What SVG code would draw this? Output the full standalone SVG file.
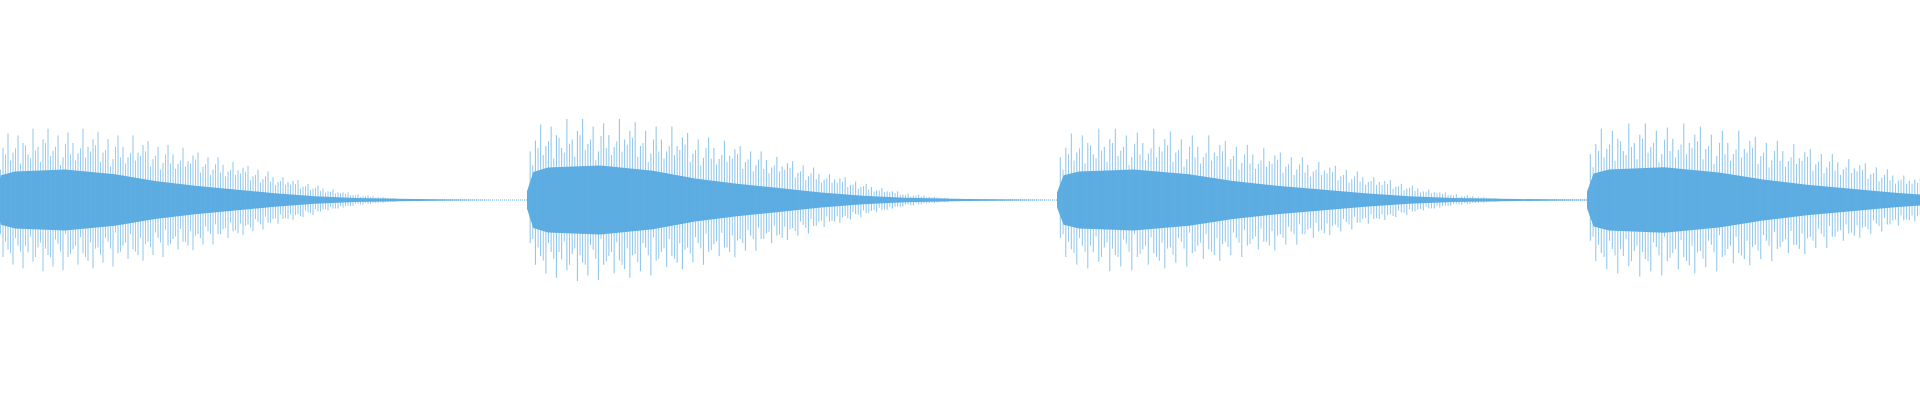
<svg xmlns="http://www.w3.org/2000/svg" width="1920" height="400" viewBox="0 0 1920 400">
<style>
.core{fill:#5dade2;stroke:none}
.sp{stroke:#5dade2;stroke-width:0.7;fill:none}
.base{stroke:#5dade2;stroke-width:1;stroke-dasharray:1 1}
</style>
<defs>
<path id="spk" class="sp" d="M3,-45V40M8,-55V60M13,-70V52M18,-50V68M23,-68V48M28,-60V72M33,-48V55M38,-75V65M43,-56V50M48,-64V75M53,-75V58M58,-52V70M63,-68V46M68,-45V74M73,-71V60M78,-60V52M83,-49V68M88,-75V56M93,-56V64M98,-64V72M103,-72V50M108,-50V66M113,-64V44M118,-43V70M123,-68V56M128,-56V48M133,-45V62M138,-68V52M143,-50V58M148,-58V64M153,-62V44M158,-43V58M163,-56V40M168,-39V60M173,-58V48M178,-48V41M183,-38V52M188,-55V44M193,-41V48M198,-47V53M203,-50V36M208,-35V47M213,-45V33M218,-32V47M223,-45V36M228,-37V31M233,-30V40M238,-40V33M243,-31V35M248,-34V37M253,-36V26M258,-25V33M263,-32V23M268,-22V31M273,-30V24M278,-24V20M283,-19V25M288,-24V20M293,-19V20M298,-20V21M303,-21V15M308,-14V18M313,-17V13M318,-12V16M323,-15V12M328,-12V10M333,-9V11M338,-11V9M343,-8V9M348,-8V8M353,-8V6M358,-5V6M363,-6V4M368,-4V5M373,-5V4M378,-4V3M383,-3V3M388,-3V3M393,-2V2M398,-2V2"/>
<g id="burst">
<path class="core" d="M0,-8 L6,-26 L20,-30 L70,-32 L120,-27 L160,-20 L200,-15 L240,-11 L280,-7 L320,-4 L360,-2 L420,-1 L500,0 L420,1 L360,2 L320,4 L280,7 L240,11 L200,15 L160,20 L120,27 L70,32 L20,30 L6,26 L0,8 Z"/>
<use href="#spk"/>
<use href="#spk" transform="translate(2.5,0) scale(1,-0.8)"/>
</g>
</defs>
<rect width="1920" height="400" fill="#ffffff"/>
<line class="base" x1="0" y1="200" x2="1920" y2="200"/>
<use href="#burst" transform="translate(-5,200) scale(1,0.95)"/>
<use href="#burst" transform="translate(527,200) scale(1.05,1.08)"/>
<use href="#burst" transform="translate(1057,200) scale(1.1,0.95)"/>
<use href="#burst" transform="translate(1587,200) scale(1.1,1.02)"/>
</svg>
